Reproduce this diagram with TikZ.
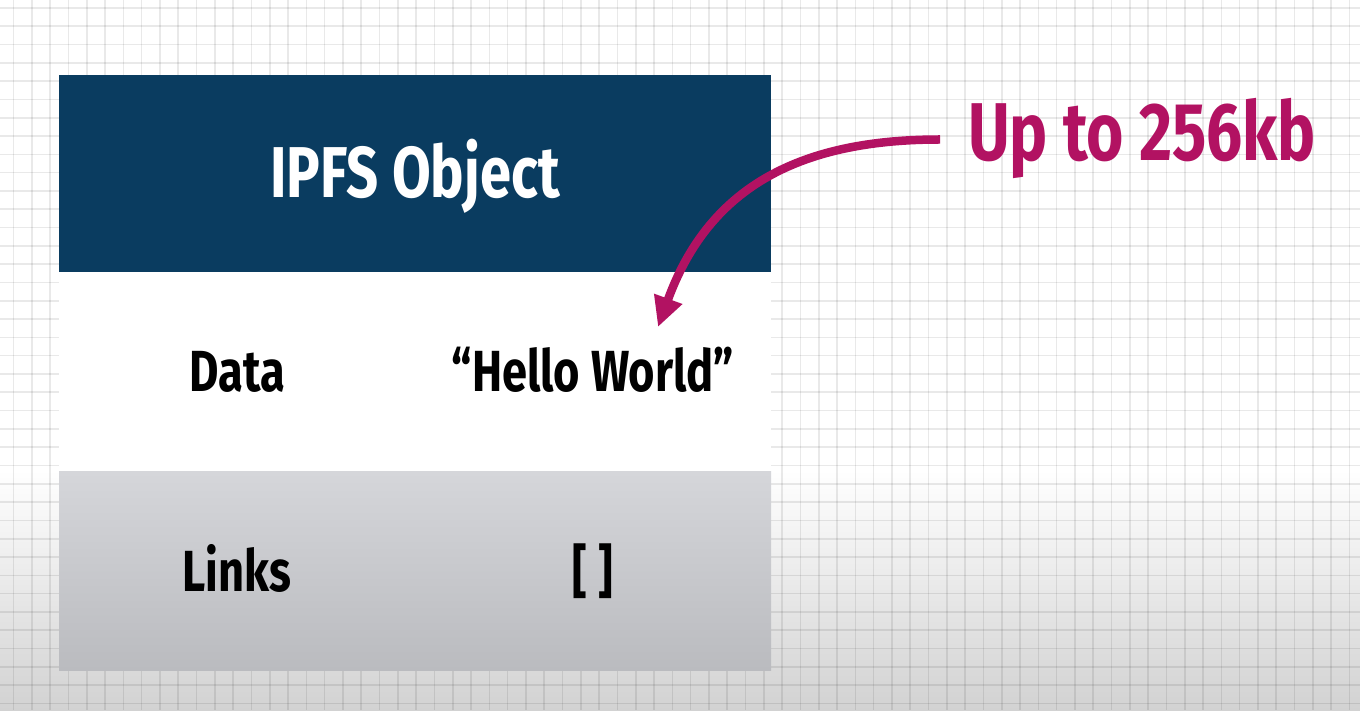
\documentclass[tikz,border=0pt]{standalone}
\usepackage{fontspec}
\setmainfont{Fira Sans}[FakeStretch=0.78]
\definecolor{objnavy}{RGB}{10,60,96}
\definecolor{callmagenta}{RGB}{178,18,98}
\definecolor{floorgray}{RGB}{210,210,210}
\definecolor{rowtop}{RGB}{213,214,218}
\definecolor{rowbottom}{RGB}{186,187,191}
\usetikzlibrary{arrows.meta, positioning}

\begin{document}
\begin{tikzpicture}[
  x=1pt, y=1pt,
  row/.style={rectangle, minimum width=712pt, inner sep=0pt, outer sep=0pt},
  cell/.style={inner sep=0pt, text height=40pt, text depth=0pt,
               font=\fontsize{58}{60}\selectfont\bfseries},
  callout/.style={inner sep=0pt, text=callmagenta, text height=57pt, text depth=0pt,
                  font=\fontsize{82}{86}\selectfont\bfseries},
  pointer/.style={-{Triangle[length=30pt, width=28pt]}, line width=8.5pt, color=callmagenta},
  paper/.style={black, opacity=0.085, line width=1.6pt}
]
  \useasboundingbox (0,0) rectangle (1360,710);

  % Background paper
  \fill[white] (0,0) rectangle (1360,710);
  \shade[top color=white, bottom color=floorgray] (0,0) rectangle (1360,240);
  \foreach \gx in {0,...,73}
    \draw[paper] (13.5+18.3*\gx,0) -- ++(0,710);
  \foreach \gy in {0,...,38}
    \draw[paper] (0,702-18.3*\gy) -- ++(1360,0);

  % Object table
  \node[row, fill=objnavy, minimum height=197pt, text=white, text height=49pt, text depth=0pt,
        font=\fontsize{72}{75}\selectfont\bfseries] (head) at (415,536.5) {IPFS Object};
  \node[row, fill=white, minimum height=200pt, below=0pt of head] (datarow) {};
  \node[row, top color=rowtop, bottom color=rowbottom, minimum height=198pt,
        below=0pt of datarow] (linkrow) {};

  \node[cell] (datakey) at ([xshift=-178pt]datarow.center) {Data};
  \node[cell] (dataval) at ([xshift=178pt]datarow.center) {“Hello World”};
  \node[cell] (linkkey) at ([xshift=-178pt]linkrow.center) {Links};
  \node[cell] (linkval) at ([xshift=178pt]linkrow.center) {[ ]};

  % Size note
  \node[callout, anchor=west] (limit) at (968,577.5) {Up to 256kb};
  \coordinate (tip) at (658,383);
  \draw[pointer] ([xshift=-28pt, yshift=-7pt]limit.west)
    to[out=180, in=70, looseness=1.1] (tip);
\end{tikzpicture}
\end{document}
